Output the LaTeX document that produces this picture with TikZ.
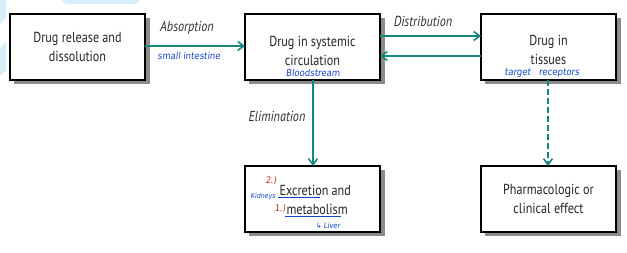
\documentclass[tikz,border=0pt]{standalone}
\usepackage{fontspec}
\setmainfont{PT Sans}[FakeStretch=0.84]
\newfontfamily\handfont{DejaVu Sans Condensed}[FakeSlant=0.12]
\usetikzlibrary{arrows.meta}
\definecolor{tealc}{RGB}{22,134,128}
\definecolor{handblue}{RGB}{20,70,200}
\definecolor{handred}{RGB}{200,40,30}
\definecolor{wmark}{RGB}{215,238,250}
\tikzset{
  box/.style={draw=black, line width=1.6pt, fill=white, minimum width=135pt, minimum height=66pt, inner sep=0pt, outer sep=0pt, anchor=north west},
  shadowfill/.style={fill=black!45},
  txt/.style={font=\fontsize{14.5}{18.5}\selectfont, align=center, text=black!85},
  lab/.style={font=\fontsize{14.5}{15}\selectfont\itshape, text=black!80},
  hand/.style={font=\handfont\fontsize{9.5}{10}\selectfont, text=handblue},
  handr/.style={font=\handfont\fontsize{9}{10}\selectfont, text=handred},
  conn/.style={draw=tealc, line width=2pt, -{Straight Barb[length=6pt,width=9pt,line width=1.6pt]}},
}
\begin{document}
\begin{tikzpicture}[x=1pt,y=-1pt]
\useasboundingbox (0,0) rectangle (627,252);
% faint watermark
\fill[wmark] (0,0) -- (6,0) -- (6,18) -- (0,24) -- cycle;
\fill[wmark] (0,48) -- (6,42) -- (6,70) -- (0,76) -- cycle;
\fill[wmark] (62,0) -- (140,0) -- (136,4) -- (66,4) -- cycle;
% shadows (drawn first, behind the boxes)
\foreach \x/\y in {10/14,245/14,481/14,245/166,481/166}{
  \fill[shadowfill] (\x+4,\y+4) rectangle (\x+139.5,\y+70);
}
% boxes
\node[box] (rel) at (10,14) {};
\node[box] (circ) at (245,14) {};
\node[box] (tis) at (481,14) {};
\node[box] (exc) at (245,166) {};
\node[box] (eff) at (481,166) {};
% texts
\node[txt] (trel) at (rel.center) {Drug release and\\dissolution};
\node[txt] (tcirc) at ([yshift=-4pt]circ.center) {Drug in systemic\\circulation};
\node[txt] (ttis) at ([yshift=-3pt]tis.center) {Drug in\\tissues};
\node[txt] (teff) at ([yshift=0pt]eff.center) {Pharmacologic or\\clinical effect};
\node[txt, anchor=west] (texc1) at (276,190) {Excretion and};
\node[txt, anchor=west] (texc2) at (283,209) {metabolism};
% connectors
\draw[conn] (rel.east |- 0,46) -- (circ.west |- 0,46);
\draw[conn] (circ.east |- 0,36) -- (tis.west |- 0,36);
\draw[conn] (tis.west |- 0,56) -- (circ.east |- 0,56);
\draw[conn] (circ.south -| 313,0) -- (exc.north -| 313,0);
\draw[conn, dashed, dash pattern=on 6pt off 3pt] (tis.south -| 548,0) -- (eff.north -| 548,0);
% labels
\node[lab] (labs) at (187,28) {Absorption};
\node[lab] (ldis) at (423,21) {Distribution};
\node[lab] (lelim) at (277,116) {Elimination};
% handwritten notes
\node[hand] (hsi) at (189,56) {small intestine};
\node[hand] (hbl) at (313,73) {Bloodstream};
\node[hand] (htr) at (542,73.5) {target\ \ \ receptors};
\node[hand, font=\handfont\fontsize{7}{8}\selectfont] (hkid) at (263,197) {Kidneys};
\node[hand, font=\handfont\fontsize{7.5}{8}\selectfont] (hliv) at (328,226) {↳ Liver};
\node[handr] (h2) at (271,181) {2.)};
\node[handr] (h1) at (280,209) {1.)};
\draw[handblue, line width=0.7pt] (texc1.south west) ++(2pt,1pt) -- ++(42pt,0);
\draw[handblue, line width=0.7pt] (texc2.south west) ++(2pt,1pt) -- ++(56pt,0);
\end{tikzpicture}
\end{document}
